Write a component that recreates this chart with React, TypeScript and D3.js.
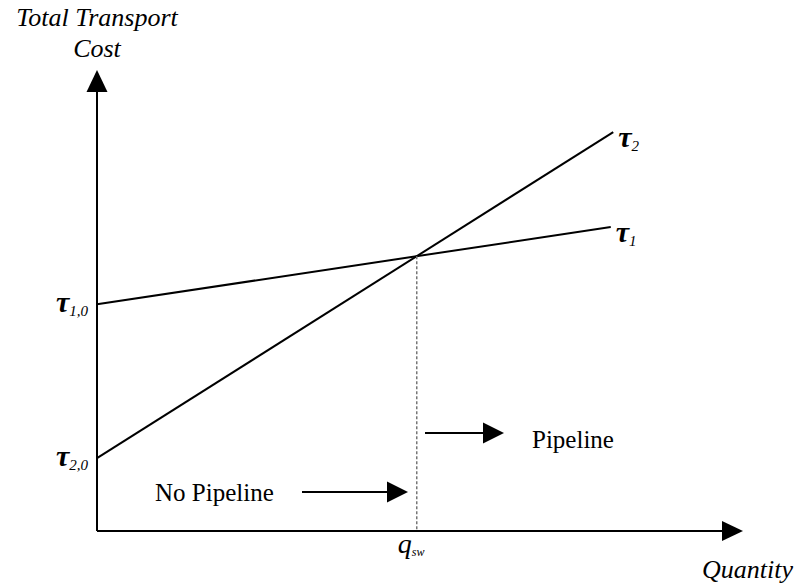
import React from "react";
import * as d3 from "d3";

// Conceptual data (arbitrary units): quantity 0–100, cost 0–100
const lineNames = ["τ1", "τ2"];
const intercepts = [52, 16.7];
const slopes = [0.2156, 0.9056];
const lineEnds = [82.2, 82.6];
const lineSubs = ["1", "2"];
const interceptSubs = ["1,0", "2,0"];

const W = 795;
const H = 584;
const FONT = "'Liberation Serif', 'Times New Roman', serif";

export default function App() {
  const x = d3.scaleLinear().domain([0, 100]).range([97, 722]);
  const y = d3.scaleLinear().domain([0, 100]).range([531, 95]);

  const qsw = (intercepts[0] - intercepts[1]) / (slopes[1] - slopes[0]);
  const csw = intercepts[0] + slopes[0] * qsw;

  const lineGen = d3
    .line<[number, number]>()
    .x((d) => x(d[0]))
    .y((d) => y(d[1]));

  const lines = lineNames.map((n, i) => {
    const pts: [number, number][] = [
      [0, intercepts[i]],
      [lineEnds[i], intercepts[i] + slopes[i] * lineEnds[i]],
    ];
    return { n, i, pts };
  });

  const x0 = x(0);
  const yBase = y(0);

  const arrowHead = (tipX: number, tipY: number, dir: "right" | "up", len = 20, half = 10) =>
    dir === "right"
      ? `M${tipX},${tipY} L${tipX - len},${tipY - half} L${tipX - len},${tipY + half} Z`
      : `M${tipX},${tipY} L${tipX - half},${tipY + len} L${tipX + half},${tipY + len} Z`;

  const qx = x(qsw);

  return (
    <svg width={W} height={H} style={{ position: "absolute", left: 0, top: 0, background: "#fff" }} fontFamily={FONT}>
      {/* Y axis */}
      <line x1={x0} y1={yBase} x2={x0} y2={90} stroke="#000" strokeWidth={2} />
      <path d={arrowHead(x0, 70, "up", 22, 10.5)} fill="#000" />
      {/* X axis */}
      <line x1={x0} y1={yBase} x2={725} y2={yBase} stroke="#000" strokeWidth={2} />
      <path d={arrowHead(743, yBase, "right", 21, 10)} fill="#000" />

      {/* Cost lines */}
      {lines.map((l) => (
        <path key={l.n} d={lineGen(l.pts) || ""} stroke="#000" strokeWidth={2} fill="none" />
      ))}

      {/* Dashed line at q_sw */}
      <line x1={qx} y1={y(csw)} x2={qx} y2={yBase} stroke="#777" strokeWidth={1.5} strokeDasharray="3,2" />

      {/* Line end labels */}
      {lines.map((l) => {
        const end = l.pts[1];
        return (
          <text key={"lab" + l.n} x={x(end[0]) + 5} y={y(end[1]) + 15} fontSize={30} fontWeight="bold" fontStyle="italic">
            τ
            <tspan fontSize={15} fontWeight="normal" dy={4}>
              {lineSubs[l.i]}
            </tspan>
          </text>
        );
      })}

      {/* Intercept labels */}
      {lines.map((l) => (
        <text key={"int" + l.n} x={56} y={y(intercepts[l.i]) + 8} fontSize={30} fontWeight="bold" fontStyle="italic">
          τ
          <tspan fontSize={15} fontWeight="normal" dy={4}>
            {interceptSubs[l.i]}
          </tspan>
        </text>
      ))}

      {/* Axis titles */}
      <text x={97} y={26} fontSize={26} fontStyle="italic" textAnchor="middle">
        Total Transport
      </text>
      <text x={97} y={57} fontSize={26} fontStyle="italic" textAnchor="middle">
        Cost
      </text>
      <text x={793} y={578} fontSize={26} fontStyle="italic" textAnchor="end">
        Quantity
      </text>

      {/* q_sw label */}
      <text x={qx - 19} y={553} fontSize={28} fontStyle="italic">
        q
        <tspan fontSize={12} dy={3}>
          sw
        </tspan>
      </text>

      {/* No Pipeline annotation */}
      <text x={155} y={501} fontSize={25}>
        No Pipeline
      </text>
      <line x1={302} y1={492} x2={390} y2={492} stroke="#000" strokeWidth={2} />
      <path d={arrowHead(408, 492, "right", 21, 10.5)} fill="#000" />

      {/* Pipeline annotation */}
      <line x1={425} y1={433} x2={485} y2={433} stroke="#000" strokeWidth={2} />
      <path d={arrowHead(504, 433, "right", 21, 10.5)} fill="#000" />
      <text x={532} y={448} fontSize={25}>
        Pipeline
      </text>
    </svg>
  );
}
